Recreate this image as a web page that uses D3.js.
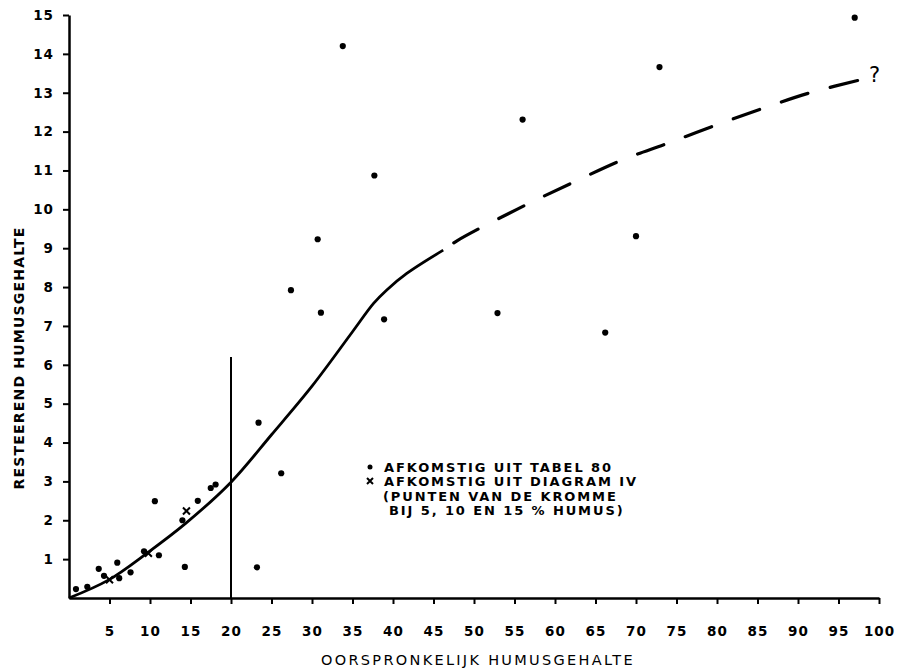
<!DOCTYPE html>
<html>
<head>
<meta charset="utf-8">
<script src="https://cdn.jsdelivr.net/npm/d3@7"></script>
<style>
  body { margin: 0; background: #fff; }
  svg { font-family: "DejaVu Sans", sans-serif; }
</style>
</head>
<body>
<div id="chart"></div>
<script>
// tick labels
const xTicks = [5, 10, 15, 20, 25, 30, 35, 40, 45, 50, 55, 60, 65, 70, 75, 80, 85, 90, 95, 100];
const yTicks = [1, 2, 3, 4, 5, 6, 7, 8, 9, 10, 11, 12, 13, 14, 15];

// dots: "afkomstig uit tabel 80"
const dotX = [0.86, 2.26, 3.67, 4.32, 5.96, 6.2, 7.6, 9.26, 11.1, 10.6, 14.3, 14.0, 15.9, 17.5, 18.1,
              23.4, 26.2, 23.2, 33.8, 56.0, 37.7, 30.7, 27.4, 31.1, 38.9, 52.9, 97.0, 72.9, 70.0, 66.2];
const dotY = [0.23, 0.29, 0.75, 0.57, 0.91, 0.51, 0.66, 1.2, 1.1, 2.49, 0.8, 2.0, 2.5, 2.83, 2.92,
              4.51, 3.21, 0.79, 14.2, 12.31, 10.87, 9.23, 7.92, 7.34, 7.17, 7.33, 14.93, 13.66, 9.31, 6.83];

// crosses: "afkomstig uit diagram IV"
const crossX = [5, 9.8, 14.5];
const crossY = [0.47, 1.15, 2.24];

// fitted curve, solid part
const curveX = [0, 4.85, 9.6, 14.4, 20, 25, 30, 35, 37.6, 39.2, 41.7, 46.2];
const curveY = [0, 0.46, 1.15, 1.92, 2.98, 4.2, 5.45, 6.85, 7.58, 7.92, 8.35, 8.95];

// fitted curve, dashed part
const dashX = [46.2, 47.9, 55.3, 62.1, 68.4, 73.8, 79.8, 85.7, 91.5, 98.5];
const dashY = [8.95, 9.19, 10.0, 10.68, 11.28, 11.69, 12.16, 12.6, 13.0, 13.37];

const legendLines = ["AFKOMSTIG UIT TABEL 80", "AFKOMSTIG UIT DIAGRAM IV", "(PUNTEN VAN DE KROMME", "BIJ 5, 10 EN 15 % HUMUS)"];

const W = 897, H = 668;

const svg = d3.select("#chart")
    .append("svg")
        .attr("width", W)
        .attr("height", H);

const x = d3.scaleLinear().domain([0, 100]).range([69, 879]);
const y = d3.scaleLinear().domain([0, 15]).range([598, 15]);

// X axis
svg.append("g")
    .attr("transform", `translate(0, ${y(0)})`)
    .call(d3.axisBottom(x).tickValues(xTicks).tickSize(6).tickSizeOuter(0).tickPadding(22));

// Y axis
svg.append("g")
    .attr("transform", `translate(${x(0)}, 0)`)
    .call(d3.axisLeft(y).tickValues(yTicks).tickSize(6).tickSizeOuter(0).tickPadding(9));

svg.selectAll(".domain").attr("stroke", "#000").attr("stroke-width", 2.5);
svg.selectAll(".tick line").attr("stroke", "#000").attr("stroke-width", 2);
svg.selectAll(".tick text")
    .attr("fill", "#000")
    .style("font-family", "'DejaVu Sans', sans-serif")
    .style("font-size", "13.5px")
    .style("font-weight", "bold")
    .style("letter-spacing", "1px");

// axis titles
svg.append("text")
    .attr("text-anchor", "middle")
    .attr("x", 478)
    .attr("y", 665)
    .style("font-size", "14.5px")
    .style("letter-spacing", "2.3px")
    .text("OORSPRONKELIJK HUMUSGEHALTE");

svg.append("text")
    .attr("text-anchor", "middle")
    .attr("transform", "rotate(-90)")
    .attr("x", -358)
    .attr("y", 24)
    .style("font-size", "14px")
    .style("font-weight", "bold")
    .style("letter-spacing", "1.2px")
    .text("RESTEEREND HUMUSGEHALTE");

// vertical line at 20 %
svg.append("line")
    .attr("x1", x(20)).attr("x2", x(20))
    .attr("y1", y(0)).attr("y2", y(6.2))
    .attr("stroke", "#000")
    .attr("stroke-width", 2);

// curve
const line = d3.line()
    .x(function(d) { return x(d[0]); })
    .y(function(d) { return y(d[1]); })
    .curve(d3.curveCatmullRom.alpha(0.5));

svg.append("path")
    .datum(d3.zip(curveX, curveY))
    .attr("d", line)
    .attr("fill", "none")
    .attr("stroke", "#000")
    .attr("stroke-width", 2.8);

svg.append("path")
    .datum(d3.zip(dashX, dashY))
    .attr("d", line)
    .attr("fill", "none")
    .attr("stroke", "#000")
    .attr("stroke-width", 3.2)
    .attr("stroke-linecap", "round")
    .attr("stroke-dasharray", "28,23")
    .attr("stroke-dashoffset", 38);

svg.append("text")
    .attr("x", 869)
    .attr("y", 82)
    .style("font-size", "21px")
    .text("?");

// dots
svg.append("g")
    .selectAll("circle")
    .data(d3.zip(dotX, dotY))
    .enter()
    .append("circle")
        .attr("cx", function(d) { return x(d[0]); })
        .attr("cy", function(d) { return y(d[1]); })
        .attr("r", 3.1)
        .attr("fill", "#000");

// crosses
svg.append("g")
    .selectAll("path")
    .data(d3.zip(crossX, crossY))
    .enter()
    .append("path")
        .attr("d", function(d) {
            const cx = x(d[0]), cy = y(d[1]), s = 3.5;
            return `M${cx - s},${cy - s}L${cx + s},${cy + s}M${cx - s},${cy + s}L${cx + s},${cy - s}`;
        })
        .attr("stroke", "#000")
        .attr("stroke-width", 2);

// legend
const lg = svg.append("g").attr("transform", "translate(370, 0)");
lg.append("circle").attr("cx", 0).attr("cy", 467).attr("r", 2.5).attr("fill", "#000");
lg.append("path")
    .attr("d", "M-3,478L3,484M-3,484L3,478")
    .attr("stroke", "#000")
    .attr("stroke-width", 2);

const lgText = lg.append("text")
    .attr("y", 472)
    .style("font-size", "13px")
    .style("font-weight", "bold")
    .style("letter-spacing", "1.9px");
const lgDx = [14, 14, 13, 19];
lgText.selectAll("tspan")
    .data(legendLines)
    .enter()
    .append("tspan")
        .attr("x", function(d, i) { return lgDx[i]; })
        .attr("dy", function(d, i) { return i == 0 ? 0 : 14.3; })
        .text(function(d) { return d; });
</script>
</body>
</html>
